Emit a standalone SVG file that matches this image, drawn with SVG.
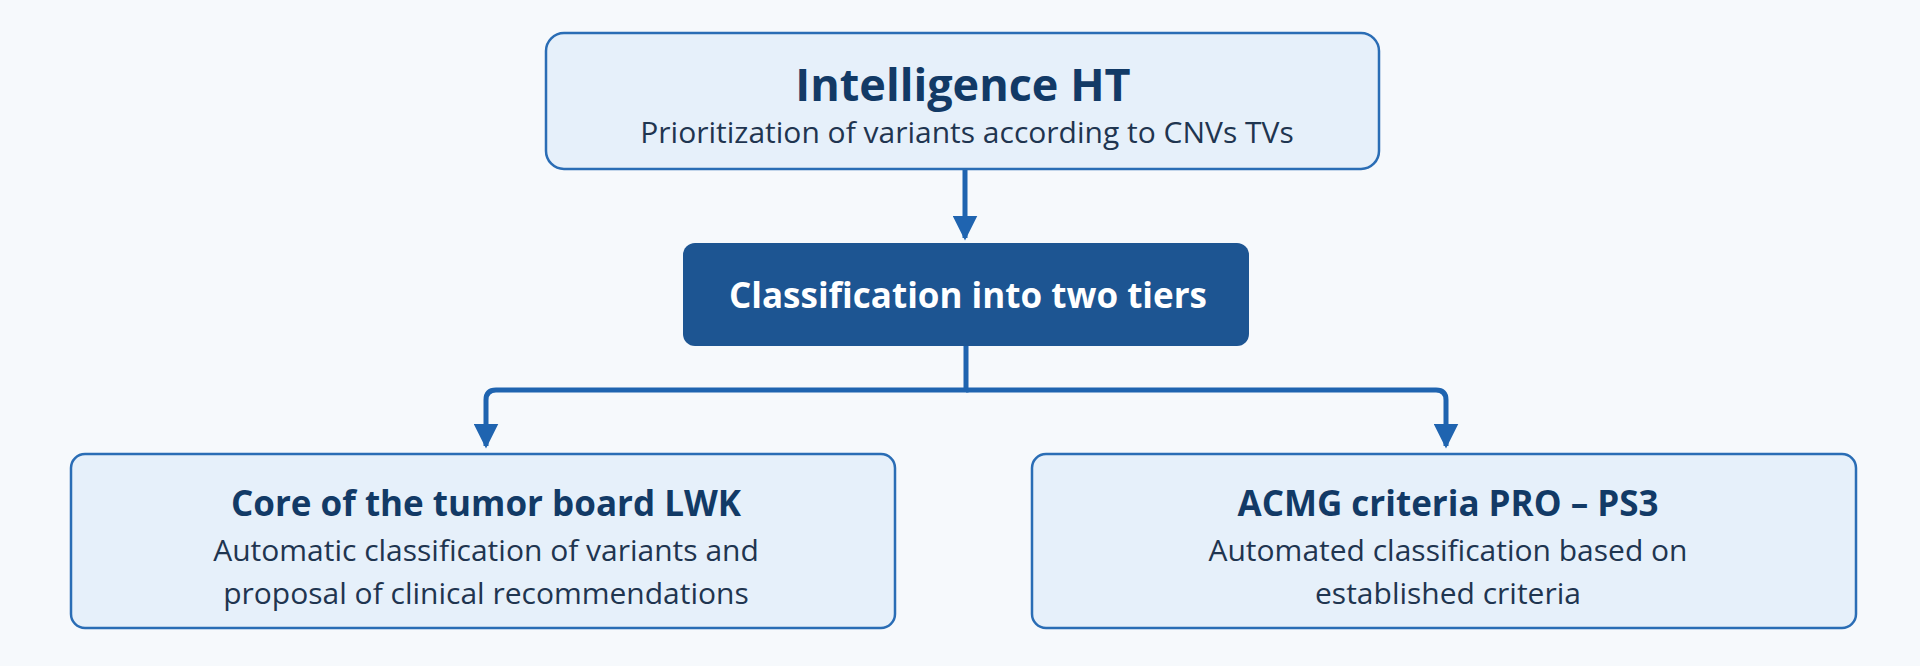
<svg xmlns="http://www.w3.org/2000/svg" width="1920" height="666" viewBox="0 0 1920 666">
<defs>
<style>
.box{fill:#e6f0fa;stroke:#2a6db5;stroke-width:2.5}
.t{font-family:"Open Sans",sans-serif;font-weight:700;fill:#123a66;text-anchor:middle}
.s{font-family:"Open Sans",sans-serif;fill:#1f3550;text-anchor:middle;font-size:30px}
.c{fill:none;stroke:#1f64b0;stroke-width:5}
</style>
<marker id="ah" viewBox="0 0 10 10" refX="9" refY="5" markerWidth="5" markerHeight="5" orient="auto" markerUnits="strokeWidth"><path d="M0,0L10,5L0,10z" fill="#1f64b0"/></marker>
</defs>
<rect width="1920" height="666" fill="#f6f9fc"/>
<g id="connectors">
<path class="c" d="M965,169V238" marker-end="url(#ah)"/>
<path class="c" d="M966,346V390H496Q486,390 486,400V446" marker-end="url(#ah)"/>
<path class="c" d="M966,390H1436Q1446,390 1446,400V446" marker-end="url(#ah)"/>
</g>
<g id="n1"><rect class="box" x="546" y="33" width="833" height="136" rx="18"/>
<text class="t" x="963" y="101" font-size="45">Intelligence HT</text>
<text class="s" x="967" y="143">Prioritization of variants according to CNVs TVs</text></g>
<g id="n2"><rect x="683" y="243" width="566" height="103" rx="12" fill="#1d5592"/>
<text class="t" x="968" y="308" font-size="35" style="fill:#fff">Classification into two tiers</text></g>
<g id="n3"><rect class="box" x="71" y="454" width="824" height="174" rx="14"/>
<text class="t" x="486" y="516" font-size="35">Core of the tumor board LWK</text>
<text class="s" x="486" y="561">Automatic classification of variants and</text>
<text class="s" x="486" y="604">proposal of clinical recommendations</text></g>
<g id="n4"><rect class="box" x="1032" y="454" width="824" height="174" rx="14"/>
<text class="t" x="1448" y="516" font-size="35">ACMG criteria PRO – PS3</text>
<text class="s" x="1448" y="561">Automated classification based on</text>
<text class="s" x="1448" y="604">established criteria</text></g>
</svg>
